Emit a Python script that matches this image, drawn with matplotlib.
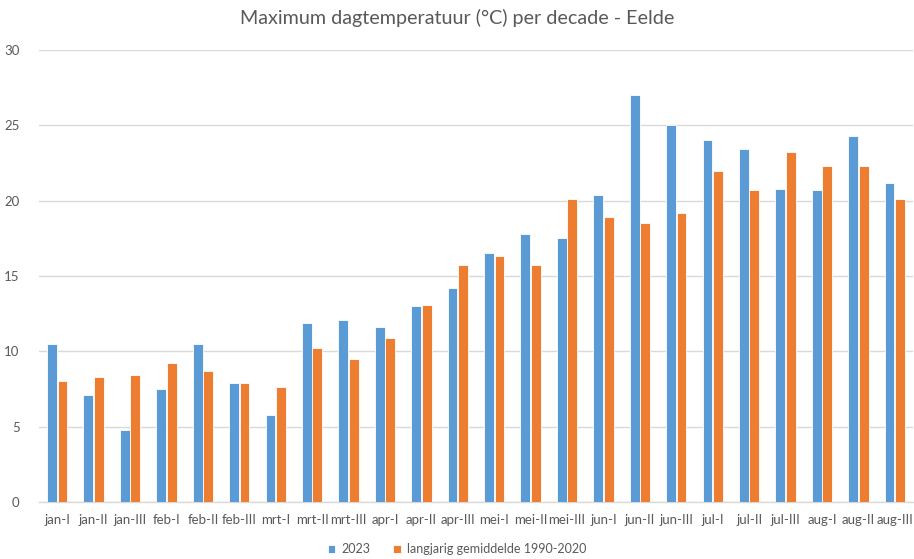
import matplotlib
matplotlib.use("Agg")
import matplotlib.pyplot as plt
import numpy as np

categories = ["jan-I", "jan-II", "jan-III", "feb-I", "feb-II", "feb-III", "mrt-I", "mrt-II",
              "mrt-III", "apr-I", "apr-II", "apr-III", "mei-I", "mei-II", "mei-III", "jun-I",
              "jun-II", "jun-III", "jul-I", "jul-II", "jul-III", "aug-I", "aug-II", "aug-III"]
values_2023 = [10.5, 7.1, 4.8, 7.5, 10.5, 7.9, 5.8, 11.9, 12.1, 11.6, 13.0, 14.2, 16.5, 17.8,
               17.5, 20.4, 27.0, 25.0, 24.0, 23.4, 20.8, 20.7, 24.3, 21.2]
values_avg = [8.0, 8.3, 8.4, 9.2, 8.7, 7.9, 7.6, 10.2, 9.5, 10.9, 13.1, 15.7, 16.3, 15.7,
              20.1, 18.9, 18.5, 19.2, 22.0, 20.7, 23.2, 22.3, 22.3, 20.1]
yticks = [0, 5, 10, 15, 20, 25, 30]

plt.rcParams['font.family'] = ['Lato', 'DejaVu Sans']
fig = plt.figure(figsize=(9.14, 5.59), dpi=100)
ax = fig.add_axes([39/914, 1 - 502/559, (913 - 39)/914, (502 - 50)/559])

x = np.arange(len(categories))
w = 0.27
blue = "#5B9BD5"
orange = "#ED7D31"
ax.bar(x - w/2 - 0.01, values_2023, w, color=blue, edgecolor="white", linewidth=0.6, label="2023", zorder=3)
ax.bar(x + w/2 + 0.01, values_avg, w, color=orange, edgecolor="white", linewidth=0.6,
       label="langjarig gemiddelde 1990-2020", zorder=3)

ax.set_xlim(-0.5, len(categories) - 0.5)
ax.set_ylim(0, 30)
ax.set_yticks(yticks)
ax.set_xticks(x)
ax.set_xticklabels(categories)
ax.tick_params(axis='both', length=0, labelsize=9.5, colors="#595959")
ax.tick_params(axis='x', pad=9)
ax.tick_params(axis='y', pad=14)
for lbl in ax.get_yticklabels():
    lbl.set_horizontalalignment('right')
ax.grid(axis='y', color="#D9D9D9", linewidth=1, zorder=0)
for s in ["top", "right", "left"]:
    ax.spines[s].set_visible(False)
ax.spines["bottom"].set_color("#D9D9D9")
ax.spines["bottom"].set_linewidth(1)

fig.text(0.5, 1 - 18/559, "Maximum dagtemperatuur (°C) per decade - Eelde", ha="center", va="center",
         fontsize=14.2, color="#595959")

fig.legend(loc="center", bbox_to_anchor=(0.5, 1 - 549/559), ncol=2, frameon=False,
           fontsize=9, handlelength=0.6, handleheight=0.6, columnspacing=1.8, handletextpad=0.5,
           labelcolor="#595959")

fig.savefig("out.png", dpi=100)
